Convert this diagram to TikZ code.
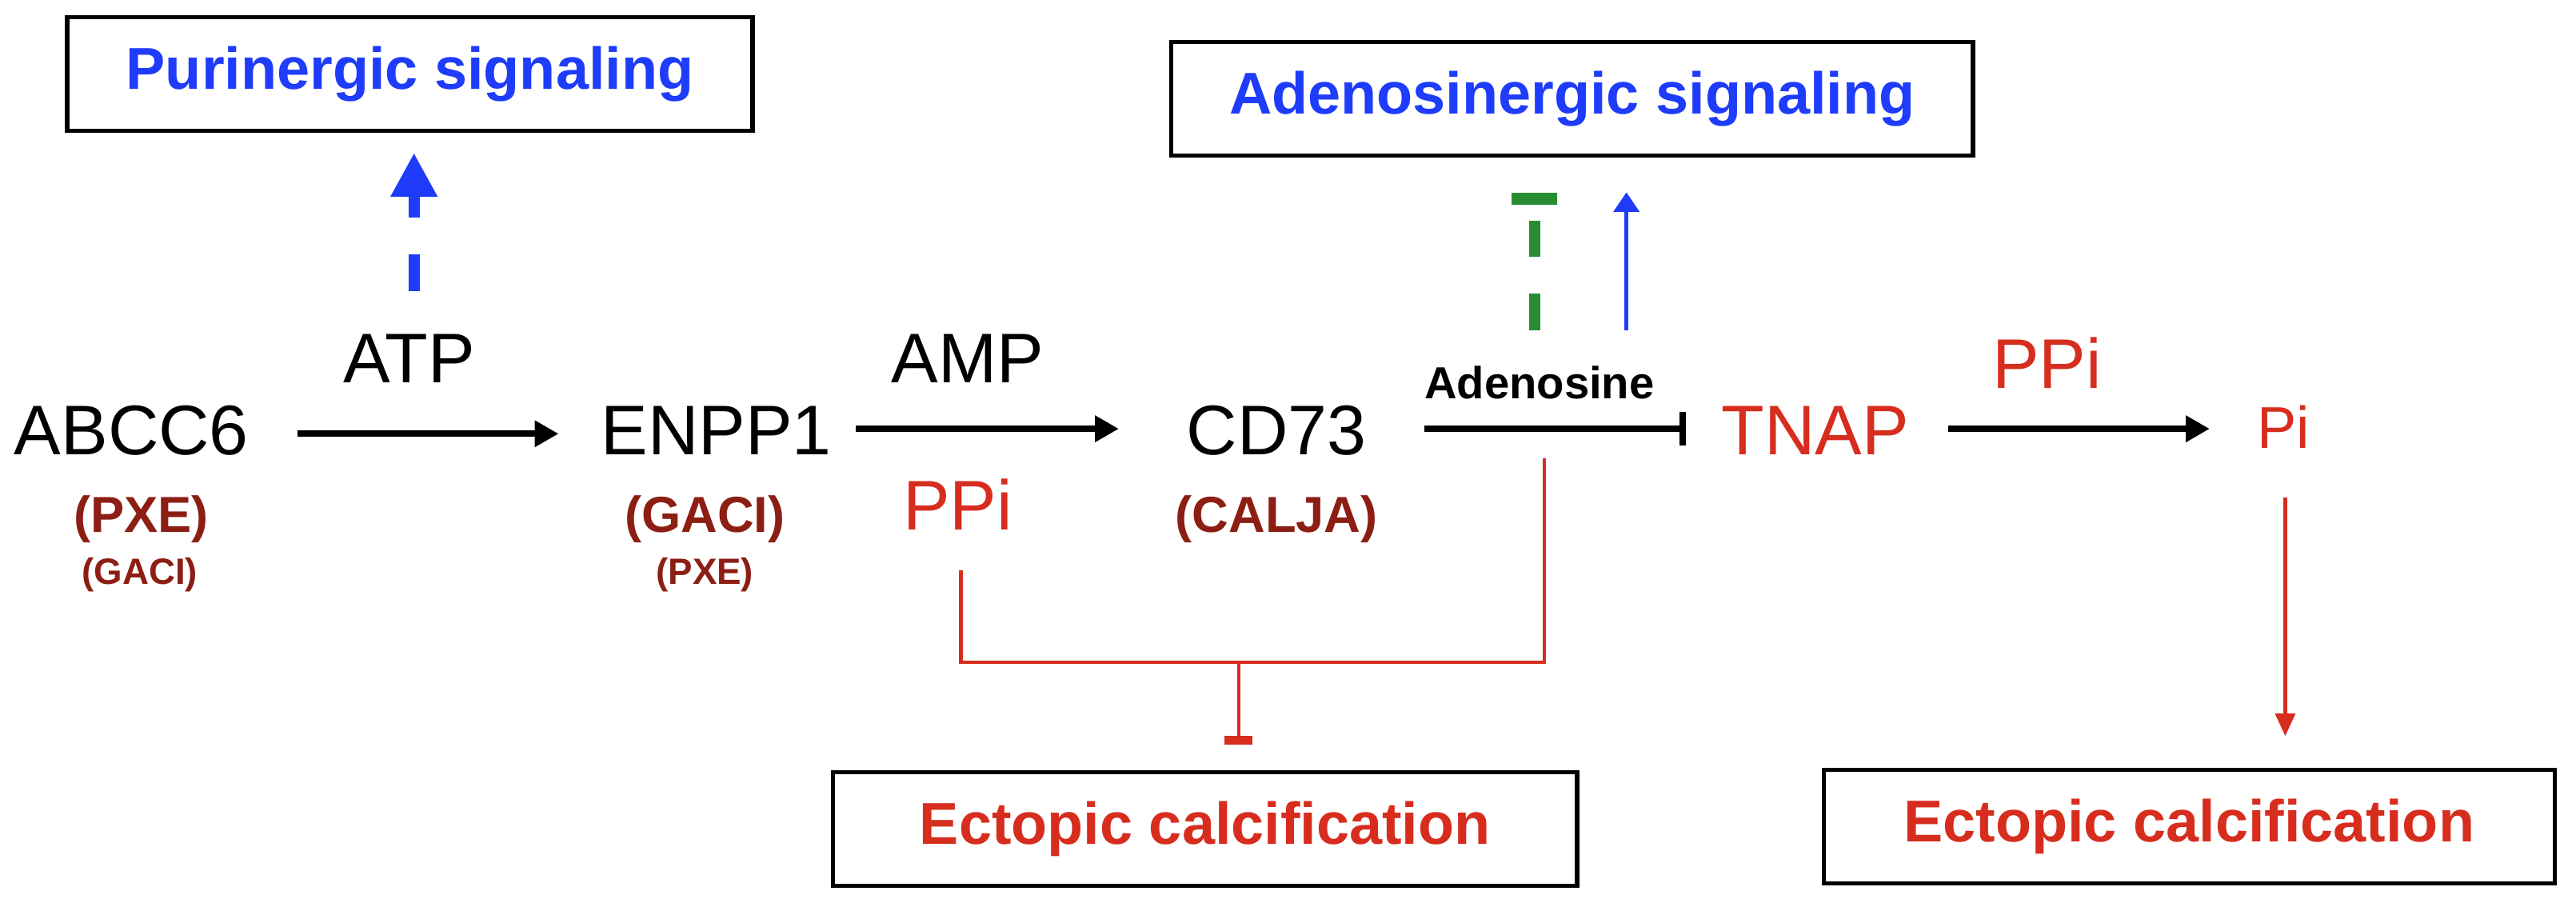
\documentclass[tikz,border=0pt]{standalone}
\usepackage{fontspec}
\setmainfont{Liberation Sans}
\usetikzlibrary{arrows.meta}
\definecolor{sigblue}{RGB}{30,60,250}
\definecolor{calred}{RGB}{215,45,30}
\definecolor{dred}{RGB}{140,30,20}
\definecolor{inhgreen}{RGB}{40,140,50}
\begin{document}
\begin{tikzpicture}[x=0.02054cm,y=-0.02054cm,
  big/.style={font=\fontsize{25}{29}\selectfont},
  dis/.style={font=\bfseries\fontsize{18}{21}\selectfont,text=dred},
  dsm/.style={font=\bfseries\fontsize{13}{15}\selectfont,text=dred},
  outbox/.style={draw,line width=1.5pt,minimum height=1.42cm,font=\bfseries\fontsize{21}{24}\selectfont},
  act/.style={-{Triangle[length=8.5pt,width=9pt]},line width=2.2pt},
  thickdash/.style={line width=4pt,dash pattern=on 13pt off 13pt}]
  \useasboundingbox (0,0) rectangle (1568,552);

  \node (pur) at (249.5,45) [outbox,minimum width=8.57cm,text=sigblue] {Purinergic signaling};
  \node (ado) at (957,60) [outbox,minimum width=10.02cm,text=sigblue] {Adenosinergic signaling};
  \node (ec1) at (733.5,504.5) [outbox,minimum width=9.3cm,text=calred] {Ectopic calcification};
  \node (ec2) at (1332.5,503) [outbox,minimum width=9.14cm,text=calred] {Ectopic calcification};

  \node (abcc) at (80,262) [big] {ABCC6};
  \node (enpp) at (436,262) [big] {ENPP1};
  \node (cd73) at (777,262) [big] {CD73};
  \node (tnap) at (1105,262) [big,text=calred] {TNAP};
  \node (pi) at (1390,260) [font=\fontsize{21}{24}\selectfont,text=calred] {Pi};

  \node (atp) at (249,218) [big] {ATP};
  \node (amp) at (589,218) [big] {AMP};
  \node (ppi1) at (583,307) [big,text=calred] {PPi};
  \node (ppi2) at (1246,221) [big,text=calred] {PPi};
  \node (aden) at (937,233) [font=\bfseries\fontsize{16}{19}\selectfont] {Adenosine};

  \node at (86,316) [dis] {(PXE)};
  \node at (85,350) [dsm] {(GACI)};
  \node at (429,316) [dis] {(GACI)};
  \node at (429,350) [dsm] {(PXE)};
  \node at (777,316) [dis] {(CALJA)};

  \coordinate (atpup) at (252,177);
  \coordinate (grn) at (934,201);
  \coordinate (blu) at (990,201);
  \coordinate (bl) at (585,347);
  \coordinate (br) at (940,403);
  \coordinate (bm) at (754,403);
  \coordinate (adlow) at (940,279);

  \draw [act] (181,264) -- (340,264);
  \draw [act] (521,261) -- (681,261);
  \draw [-{Bar[width=12pt]},line width=2.2pt] (867,261) -- (1026,261);
  \draw [act] (1186,261) -- (1345,261);
  \draw [-{Triangle[length=8pt,width=7pt]},line width=1.3pt,calred] (1391,303) -- (1391,448);

  \draw [thickdash,sigblue,-{Triangle[length=0.55cm,width=0.55cm]}] (atpup) -- (252,93);
  \draw [thickdash,inhgreen] (grn) -- (934,128);
  \draw [line width=4.5pt,inhgreen] (920,121) -- (948,121);
  \draw [-{Triangle[length=7pt,width=9pt]},sigblue,line width=1.5pt] (blu) -- (990,117);

  \draw [calred,line width=1.3pt] (bl) |- (br) -- (adlow);
  \draw [calred,line width=1.3pt,-{Bar[width=10pt,line width=3pt]}] (bm) -- (754,453);
\end{tikzpicture}
\end{document}
